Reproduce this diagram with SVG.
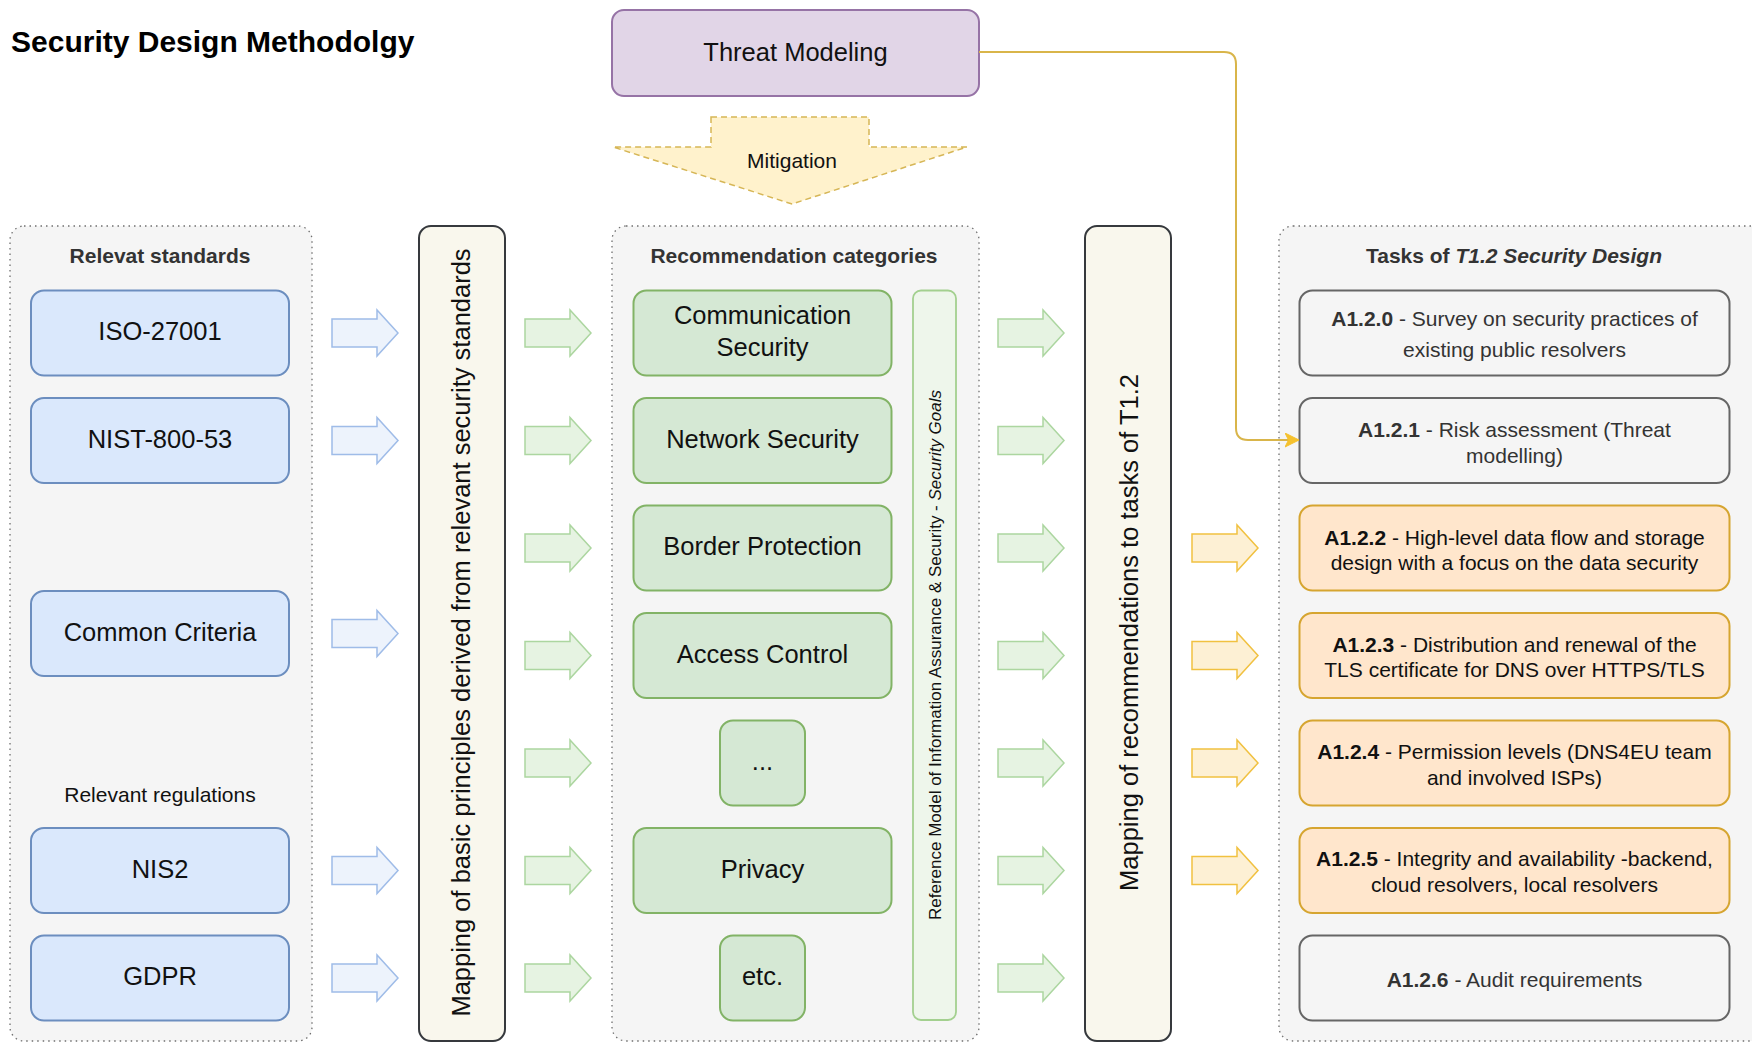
<svg xmlns="http://www.w3.org/2000/svg" width="1752" height="1043" viewBox="0 0 1752 1043">
<defs>
<style>
text{font-family:"Liberation Sans",Arial,Helvetica,sans-serif;}
.lbl{font-size:25.5px;fill:#111;text-anchor:middle;}
.hdr{font-size:21px;font-weight:bold;fill:#333;text-anchor:middle;}
.task{font-size:21px;text-anchor:middle;fill:#111;}
.dim{fill:#333;}
.b{font-weight:bold;}
.cont{fill:#f5f5f5;stroke:#6f6f6f;stroke-width:1.3;stroke-dasharray:1.5 4;}
.blue{fill:#dae8fc;stroke:#6c8ebf;stroke-width:2;}
.green{fill:#d5e8d4;stroke:#82b366;stroke-width:2;}
.map{fill:#f9f7ed;stroke:#36393d;stroke-width:2;}
.gray{fill:#f5f5f5;stroke:#666;stroke-width:2;}
.orange{fill:#ffe6cc;stroke:#d6a530;stroke-width:2;}
.ab{fill:#edf3fc;stroke:#9fbce8;stroke-width:1.5;}
.ag{fill:#e6f3e2;stroke:#acd6a0;stroke-width:1.5;}
.ay{fill:#fdf0d4;stroke:#f1c140;stroke-width:1.5;}
</style>
<path id="arr" d="M0,-14 H45 V-23 L66,0 L45,23 V14 H0 Z"/>
<marker id="ym" markerUnits="userSpaceOnUse" markerWidth="16" markerHeight="16" refX="14" refY="7" orient="auto">
<path d="M0,0 L14,7 L0,14 L3.5,7 Z" fill="#f5c12e" stroke="#f5c12e" stroke-width="1"/>
</marker>
</defs>
<rect width="1752" height="1043" fill="#ffffff"/>

<text x="11" y="52" font-size="30" font-weight="bold" fill="#000">Security Design Methodolgy</text>

<g id="threat-modeling">
<rect x="612" y="10" width="367" height="86" rx="12" fill="#e1d5e7" stroke="#9673a6" stroke-width="2"/>
<text class="lbl" x="795.5" y="60.5">Threat Modeling</text>
</g>

<g id="mitigation">
<polygon points="711,117 869,117 869,147 967,147 792,204 613,147 711,147" fill="#fff2cc" stroke="#d6b656" stroke-width="1.5" stroke-dasharray="6 4"/>
<text x="792" y="168" font-size="21" text-anchor="middle" fill="#111">Mitigation</text>
</g>

<g id="standards">
<rect class="cont" x="10" y="226" width="302" height="815" rx="14"/>
<text class="hdr" x="160" y="263">Relevat standards</text>
<text x="160" y="802" font-size="21" text-anchor="middle" fill="#111">Relevant regulations</text>
</g>
<g id="iso"><rect class="blue" x="31" y="290.5" width="258" height="85" rx="13"/><text class="lbl" x="160" y="340">ISO-27001</text></g>
<g id="nist"><rect class="blue" x="31" y="398" width="258" height="85" rx="13"/><text class="lbl" x="160" y="447.5">NIST-800-53</text></g>
<g id="cc"><rect class="blue" x="31" y="591" width="258" height="85" rx="13"/><text class="lbl" x="160" y="640.5">Common Criteria</text></g>
<g id="nis2"><rect class="blue" x="31" y="828" width="258" height="85" rx="13"/><text class="lbl" x="160" y="877.5">NIS2</text></g>
<g id="gdpr"><rect class="blue" x="31" y="935.5" width="258" height="85" rx="13"/><text class="lbl" x="160" y="985">GDPR</text></g>

<g id="mapping-principles">
<rect class="map" x="419" y="226" width="86" height="815" rx="12"/>
<text class="lbl" transform="translate(461,632.5) rotate(-90)" y="9">Mapping of basic principles derived from relevant security standards</text>
</g>

<g id="categories">
<rect class="cont" x="612" y="226" width="367" height="815" rx="14"/>
<text class="hdr" x="794" y="263">Recommendation categories</text>
</g>
<g id="comm"><rect class="green" x="633.5" y="290.5" width="258" height="85" rx="13"/><text class="lbl" x="762.5" y="324">Communication</text><text class="lbl" x="762.5" y="356">Security</text></g>
<g id="netsec"><rect class="green" x="633.5" y="398" width="258" height="85" rx="13"/><text class="lbl" x="762.5" y="447.5">Network Security</text></g>
<g id="border"><rect class="green" x="633.5" y="505.5" width="258" height="85" rx="13"/><text class="lbl" x="762.5" y="555">Border Protection</text></g>
<g id="access"><rect class="green" x="633.5" y="613" width="258" height="85" rx="13"/><text class="lbl" x="762.5" y="662.5">Access Control</text></g>
<g id="dots"><rect class="green" x="720" y="720.5" width="85" height="85" rx="13"/><text class="lbl" x="762.5" y="770">...</text></g>
<g id="privacy"><rect class="green" x="633.5" y="828" width="258" height="85" rx="13"/><text class="lbl" x="762.5" y="877.5">Privacy</text></g>
<g id="etc"><rect class="green" x="720" y="935.5" width="85" height="85" rx="13"/><text class="lbl" x="762.5" y="985">etc.</text></g>
<g id="ref-model">
<rect x="913" y="290.5" width="43" height="729.5" rx="8" fill="#eef6eb" stroke="#a3d08f" stroke-width="1.8"/>
<text transform="translate(934.5,655) rotate(-90)" y="6" font-size="17" text-anchor="middle" fill="#111">Reference Model of Information Assurance &amp; Security - <tspan font-style="italic">Security Goals</tspan></text>
</g>

<g id="mapping-tasks">
<rect class="map" x="1085" y="226" width="86" height="815" rx="12"/>
<text class="lbl" transform="translate(1128.5,632.5) rotate(-90)" y="9">Mapping of recommendations to tasks of T1.2</text>
</g>

<g id="tasks">
<rect class="cont" x="1279" y="226" width="490" height="815" rx="14"/>
<text class="hdr" x="1514" y="263">Tasks of <tspan font-style="italic">T1.2 Security Design</tspan></text>
</g>
<g id="a120"><rect class="gray" x="1299.5" y="290.5" width="430" height="85" rx="13"/>
<text class="task dim" x="1514.5" y="325.5"><tspan class="b">A1.2.0</tspan> - Survey on security practices of</text>
<text class="task dim" x="1514.5" y="356.5">existing public resolvers</text></g>
<g id="a121"><rect class="gray" x="1299.5" y="398" width="430" height="85" rx="13"/>
<text class="task dim" x="1514.5" y="437"><tspan class="b">A1.2.1</tspan> - Risk assessment (Threat</text>
<text class="task dim" x="1514.5" y="463">modelling)</text></g>
<g id="a122"><rect class="orange" x="1299.5" y="505.5" width="430" height="85" rx="13"/>
<text class="task" x="1514.5" y="544.5"><tspan class="b">A1.2.2</tspan> - High-level data flow and storage</text>
<text class="task" x="1514.5" y="570">design with a focus on the data security</text></g>
<g id="a123"><rect class="orange" x="1299.5" y="613" width="430" height="85" rx="13"/>
<text class="task" x="1514.5" y="651.5"><tspan class="b">A1.2.3</tspan> - Distribution and renewal of the</text>
<text class="task" x="1514.5" y="677">TLS certificate for DNS over HTTPS/TLS</text></g>
<g id="a124"><rect class="orange" x="1299.5" y="720.5" width="430" height="85" rx="13"/>
<text class="task" x="1514.5" y="759"><tspan class="b">A1.2.4</tspan> - Permission levels (DNS4EU team</text>
<text class="task" x="1514.5" y="784.5">and involved ISPs)</text></g>
<g id="a125"><rect class="orange" x="1299.5" y="828" width="430" height="85" rx="13"/>
<text class="task" x="1514.5" y="866"><tspan class="b">A1.2.5</tspan> - Integrity and availability -backend,</text>
<text class="task" x="1514.5" y="892">cloud resolvers, local resolvers</text></g>
<g id="a126"><rect class="gray" x="1299.5" y="935.5" width="430" height="85" rx="13"/>
<text class="task dim" x="1514.5" y="987"><tspan class="b">A1.2.6</tspan> - Audit requirements</text></g>

<g id="connectors">
<use href="#arr" class="ab" x="332" y="333"/>
<use href="#arr" class="ab" x="332" y="440.5"/>
<use href="#arr" class="ab" x="332" y="633.5"/>
<use href="#arr" class="ab" x="332" y="870.5"/>
<use href="#arr" class="ab" x="332" y="978"/>
<use href="#arr" class="ag" x="525" y="333"/>
<use href="#arr" class="ag" x="525" y="440.5"/>
<use href="#arr" class="ag" x="525" y="548"/>
<use href="#arr" class="ag" x="525" y="655.5"/>
<use href="#arr" class="ag" x="525" y="763"/>
<use href="#arr" class="ag" x="525" y="870.5"/>
<use href="#arr" class="ag" x="525" y="978"/>
<use href="#arr" class="ag" x="998" y="333"/>
<use href="#arr" class="ag" x="998" y="440.5"/>
<use href="#arr" class="ag" x="998" y="548"/>
<use href="#arr" class="ag" x="998" y="655.5"/>
<use href="#arr" class="ag" x="998" y="763"/>
<use href="#arr" class="ag" x="998" y="870.5"/>
<use href="#arr" class="ag" x="998" y="978"/>
<use href="#arr" class="ay" x="1192" y="548"/>
<use href="#arr" class="ay" x="1192" y="655.5"/>
<use href="#arr" class="ay" x="1192" y="763"/>
<use href="#arr" class="ay" x="1192" y="870.5"/>
<path d="M979,52 H1224 Q1236,52 1236,64 V428 Q1236,440 1248,440 H1299" fill="none" stroke="#d9b54a" stroke-width="2" marker-end="url(#ym)"/>
</g>
</svg>
